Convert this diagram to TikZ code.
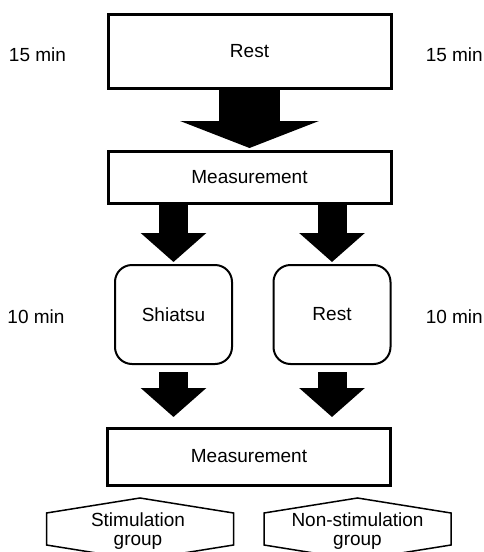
\documentclass[tikz,border=0pt]{standalone}
\usepackage{fontspec}
\setmainfont{Liberation Sans}
\usepackage{tikz}
\usetikzlibrary{arrows.meta,positioning,calc}

\begin{document}
\begin{tikzpicture}[x=1pt,y=-1pt,
  font=\fontsize{19}{20}\selectfont,
  box/.style={draw,line width=3pt,minimum width=283pt,outer sep=0pt},
  phase/.style={draw,line width=2pt,rounded corners=17pt,minimum width=117pt,
    minimum height=99pt,outer sep=0pt},
  grp/.style={inner sep=0pt,outer sep=0pt,align=center,font=\fontsize{19}{19}\selectfont},
  hexline/.style={line width=1.5pt,line join=miter},
  bigarrow/.style={line width=61pt,-{Triangle[length=27pt,width=138pt]}},
  smallarrow/.style={line width=29pt,-{Triangle[length=29pt,width=64pt]}},
]
  \useasboundingbox (0,0) rectangle (484,552);
  \clip (0,0) rectangle (484,552);

  \node[box,minimum height=74pt] (rest) at (249.5,51.5) {Rest};
  \node[box,minimum height=52pt] (meas1) at (249.5,177) {Measurement};
  \node[phase] (shiatsu) at (173.5,314.5) {Shiatsu};
  \node[phase] (rest2) at (332,314.5) {Rest};
  \node[box,minimum height=57pt] (meas2) at (249,456.5) {Measurement};
  \node[grp] (stim) at (138,531) {Stimulation\\group};
  \node[grp] (nonstim) at (357.5,531) {Non-stimulation\\group};

  % durations
  \node (t1l) at (37.5,55) {15 min};
  \node[anchor=east,inner sep=0pt] (t1r) at (483,55) {15 min};
  \node (t2l) at (36,317) {10 min};
  \node[anchor=east,inner sep=0pt] (t2r) at (483,317) {10 min};

  \draw[bigarrow,shorten >=3pt] (rest.south) -- (meas1.north);
  \foreach \n in {shiatsu,rest2} {
    \draw[smallarrow,shorten >=3pt] (meas1.south -| \n.north) -- (\n.north);
    \draw[smallarrow,shorten <=8pt,shorten >=11pt] (\n.south) -- (meas2.north -| \n.south);
  }

  % group hexagons, cut by the lower edge
  \coordinate (hl) at (140,535);
  \coordinate (hr) at (357.5,535);
  \foreach \c in {hl,hr}
    \draw[hexline] ($(\c)+(-93.5,10)$) -- ($(\c)+(-93.5,-22)$) -- ($(\c)+(0,-37)$)
      -- ($(\c)+(93.5,-22)$) -- ($(\c)+(93.5,10)$) -- ($(\c)+(0,25)$) -- cycle;
\end{tikzpicture}
\end{document}
